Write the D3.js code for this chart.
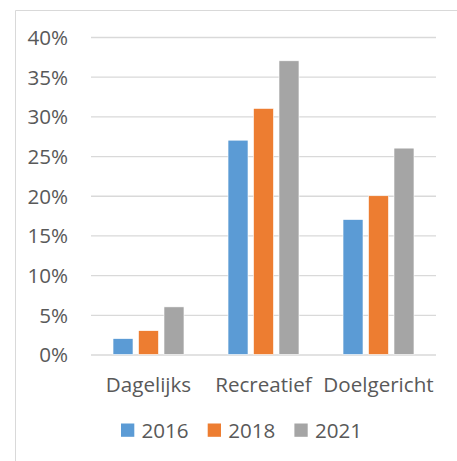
<!DOCTYPE html>
<html lang="nl">
<head>
    <meta charset="UTF-8">
    <title>Fietsgebruik</title>
    <script src="https://d3js.org/d3.v7.min.js"></script>
    <style>
        body{
            margin: 0;
            background: #fff;
        }
        svg{
            display: block;
        }
        text{
            font-family: "Open Sans", sans-serif;
            font-size: 20.6px;
            fill: #595959;
        }
    </style>
</head>
<body>
<script>

    const width = 457
    const height = 461

    // data
    const categories = ["Dagelijks", "Recreatief", "Doelgericht"]
    const years = ["2016", "2018", "2021"]
    const values2016 = [0.02, 0.27, 0.17]
    const values2018 = [0.03, 0.31, 0.20]
    const values2021 = [0.06, 0.37, 0.26]
    const yTicks = [0, 0.05, 0.10, 0.15, 0.20, 0.25, 0.30, 0.35, 0.40]

    const colors = ["#5b9bd5", "#ed7d31", "#a5a5a5"]
    const series = [values2016, values2018, values2021]

    // rows: one per category, with a value per year
    const rows = categories.map((c, i) => ({
        cat: c,
        vals: years.map((y, j) => ({year: y, value: series[j][i], color: colors[j]}))
    }))

    let svg = d3.select("body").append("svg")
                .attr("width", width)
                .attr("height", height)

    // chart frame (runs off the right and bottom edges)
    svg.append("path")
        .attr("d", `M15.5,${height} V10.5 H${width}`)
        .attr("fill", "none")
        .attr("stroke", "#d9d9d9")
        .attr("stroke-width", 1)

    const x0 = d3.scaleBand()
                    .domain(categories)
                    .range([91, 436])
                    .paddingInner(0.383)
                    .paddingOuter(0.1915)

    const x1 = d3.scaleBand()
                    .domain(years)
                    .range([0, x0.bandwidth()])
                    .paddingInner(0.216)

    const y = d3.scaleLinear()
                    .domain([0, 0.4])
                    .range([354.5, 37])

    // gridlines
    const yAxis = d3.axisLeft(y)
                    .tickValues(yTicks)
                    .tickFormat(d3.format(".0%"))
                    .tickSize(-(436 - 91))
                    .tickPadding(23)

    let gY = svg.append("g")
                .attr("transform", "translate(91,0)")
                .call(yAxis)
    gY.select(".domain").remove()
    gY.selectAll(".tick line")
        .attr("stroke", "#d9d9d9")
        .attr("stroke-width", 1.3)
    gY.selectAll(".tick text")
        .attr("fill", "#595959")
        .attr("dy", "0.36em")
        .style("font-size", "20.6px")

    // bars
    let gGroups = svg.selectAll(".grp")
                    .data(rows)
                    .enter()
                    .append("g")
                    .attr("transform", d => `translate(${x0(d.cat)},0)`)

    gGroups.selectAll("rect")
        .data(d => d.vals)
        .enter()
        .append("rect")
        .attr("x", d => x1(d.year))
        .attr("y", d => y(d.value))
        .attr("width", x1.bandwidth())
        .attr("height", d => y(0) - y(d.value))
        .attr("fill", d => d.color)
        .attr("stroke", "#fff")
        .attr("stroke-width", 0.6)

    // category labels
    const xAxis = d3.axisBottom(x0).tickSize(0).tickPadding(23)
    let gX = svg.append("g")
                .attr("transform", "translate(0,354.5)")
                .call(xAxis)
    gX.select(".domain").remove()
    gX.selectAll(".tick text")
        .attr("fill", "#595959")
        .style("font-size", "20.6px")

    // legend
    let gLegend = svg.append("g").attr("transform", "translate(121,423.5)")
    let items = gLegend.selectAll("g")
                    .data(years)
                    .enter()
                    .append("g")
                    .attr("transform", (d, i) => `translate(${i * 86.7},0)`)
    items.append("rect")
        .attr("width", 13.3)
        .attr("height", 13.3)
        .attr("fill", (d, i) => colors[i])
    items.append("text")
        .attr("x", 20.5)
        .attr("y", 14.8)
        .text(d => d)

</script>
</body>
</html>
